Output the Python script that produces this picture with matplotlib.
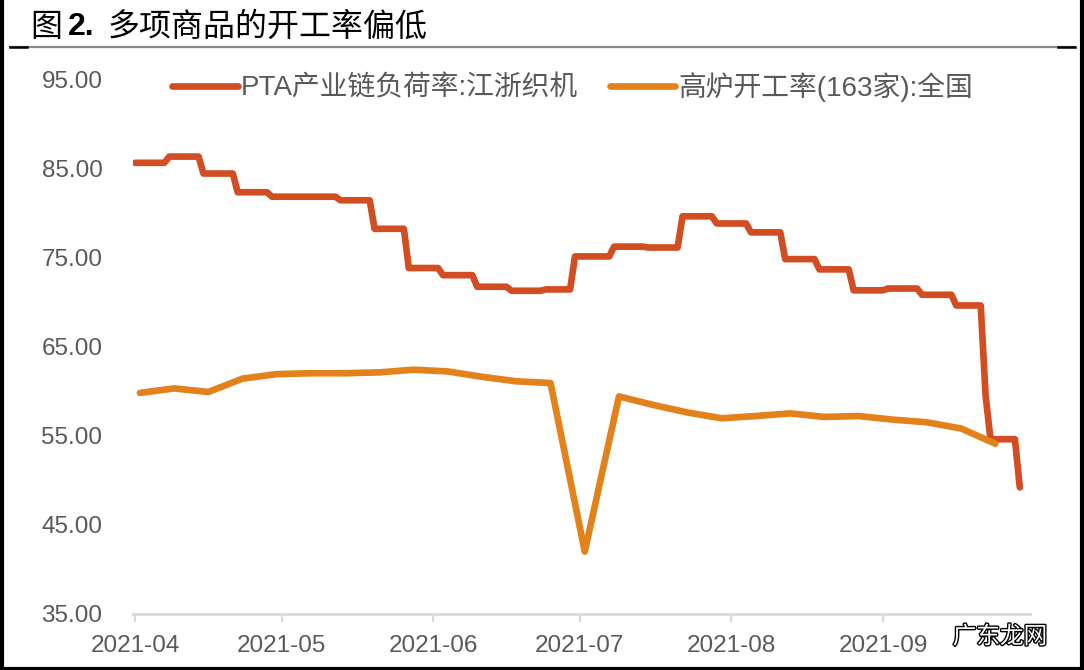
import matplotlib
matplotlib.use("Agg")
import matplotlib.pyplot as plt
import matplotlib.dates as mdates
import matplotlib.patheffects as pe
import pandas as pd

plt.rcParams['font.family'] = ['Liberation Sans', 'Noto Sans CJK SC']

# PTA产业链负荷率:江浙织机 (日期为数值变动日, 日度数据保持不变直到下次变动)
pta_fechas = ["2021-04-01", "2021-04-08", "2021-04-15", "2021-04-22", "2021-04-29",
              "2021-05-13", "2021-05-20", "2021-05-27", "2021-06-03", "2021-06-10",
              "2021-06-17", "2021-06-24", "2021-06-30", "2021-07-08", "2021-07-15",
              "2021-07-22", "2021-07-29", "2021-08-05", "2021-08-12", "2021-08-19",
              "2021-08-26", "2021-09-02", "2021-09-09", "2021-09-16", "2021-09-22",
              "2021-09-23", "2021-09-29"]
pta_valores = [85.6, 86.3, 84.4, 82.3, 81.8,
               81.4, 78.2, 73.8, 73.0, 71.7,
               71.25, 71.4, 75.1, 76.2, 76.1,
               79.6, 78.8, 77.8, 74.8, 73.65,
               71.3, 71.5, 70.8, 69.6, 59.5,
               54.6, 49.2]

# 高炉开工率(163家):全国 (周度)
gl_fechas = ["2021-04-02", "2021-04-09", "2021-04-16", "2021-04-23", "2021-04-30",
             "2021-05-07", "2021-05-14", "2021-05-21", "2021-05-28", "2021-06-04",
             "2021-06-11", "2021-06-18", "2021-06-25", "2021-07-02", "2021-07-09",
             "2021-07-16", "2021-07-23", "2021-07-30", "2021-08-06", "2021-08-13",
             "2021-08-20", "2021-08-27", "2021-09-03", "2021-09-10", "2021-09-17",
             "2021-09-24"]
gl_valores = [59.8, 60.3, 59.9, 61.4, 61.9,
              62.0, 62.0, 62.1, 62.4, 62.2,
              61.6, 61.1, 60.9, 42.0, 59.4,
              58.45, 57.6, 56.95, 57.2, 57.5,
              57.1, 57.2, 56.8, 56.5, 55.8,
              54.1]

etiquetas_y = ["35.00", "45.00", "55.00", "65.00", "75.00", "85.00", "95.00"]
valores_y = [35, 45, 55, 65, 75, 85, 95]
meses = ["2021-04-01", "2021-05-01", "2021-06-01", "2021-07-01", "2021-08-01", "2021-09-01"]

rojo = "#D24D22"
naranja = "#E3821A"
gris_texto = "#595959"

#Serie diaria de PTA: el valor se mantiene hasta el siguiente cambio
pta = pd.Series(pta_valores, index=pd.to_datetime(pta_fechas)).resample("D").ffill()

fig = plt.figure(figsize=(10.84, 6.70), dpi=100)
ax = fig.add_axes([133 / 1084, 56 / 670, 897 / 1084, 535 / 670])

#Series
ax.plot(pta.index, pta.values, color=rojo, lw=4.8,
        solid_joinstyle="round", solid_capstyle="round",
        label="PTA产业链负荷率:江浙织机")
ax.plot(pd.to_datetime(gl_fechas), gl_valores, color=naranja, lw=4.8,
        solid_joinstyle="round", solid_capstyle="round",
        label="高炉开工率(163家):全国")

#Ejes
ax.set_ylim(35, 95)
ax.set_yticks(valores_y)
ax.set_yticklabels(etiquetas_y)
ax.set_xlim(pd.Timestamp("2021-03-31 14:00"), pd.Timestamp("2021-10-01 02:00"))
ax.set_xticks(pd.to_datetime(meses))
ax.xaxis.set_major_formatter(mdates.DateFormatter("%Y-%m"))

for lado in ["left", "right", "top"]:
    ax.spines[lado].set_visible(False)
ax.spines["bottom"].set_color("#d9d9d9")
ax.spines["bottom"].set_linewidth(2)
ax.tick_params(axis="y", length=0, pad=22, labelsize=17.5, labelcolor=gris_texto)
ax.tick_params(axis="x", length=6, width=1.5, color="#d9d9d9", pad=9,
               labelsize=17.5, labelcolor=gris_texto)

#Leyenda
ax.legend(loc="upper left", bbox_to_anchor=(0.016, 1.06), ncol=2, frameon=False,
          fontsize=20, handlelength=2.35, handletextpad=0.12, columnspacing=1.15,
          labelcolor=gris_texto)

#Título
fig.text(30 / 1084, 1 - 27 / 670, "图", fontsize=23, color="black", va="center",
         family=["Noto Sans CJK SC"])
fig.text(68 / 1084, 1 - 27 / 670, "2.", fontsize=23, color="black", va="center",
         weight="bold", family=["Liberation Sans"])
fig.text(108 / 1084, 1 - 27 / 670, "多项商品的开工率偏低", fontsize=23, color="black",
         va="center", family=["Noto Sans CJK SC"])

#Línea bajo el título
fig.add_artist(plt.Line2D([10 / 1084, 1075 / 1084], [1 - 47 / 670] * 2,
                          color="#8c8c8c", lw=1.6))
fig.add_artist(plt.Line2D([10 / 1084, 27 / 1084], [1 - 47 / 670] * 2,
                          color="black", lw=1.8))
fig.add_artist(plt.Line2D([1058 / 1084, 1075 / 1084], [1 - 47 / 670] * 2,
                          color="black", lw=1.8))

#Marca de agua
fig.text(1000 / 1084, 1 - 637 / 670, "广东龙网", fontsize=17, color="white",
         ha="center", va="center", family=["Noto Sans CJK SC"],
         path_effects=[pe.withStroke(linewidth=2, foreground="black")])

#Marco negro
for xs, ys in [([0.0015, 0.0015], [0, 1]), ([0.9985, 0.9985], [0, 1]),
               ([0, 1], [0.002, 0.002])]:
    fig.add_artist(plt.Line2D(xs, ys, color="black", lw=3))

fig.savefig("out.png", dpi=100)
